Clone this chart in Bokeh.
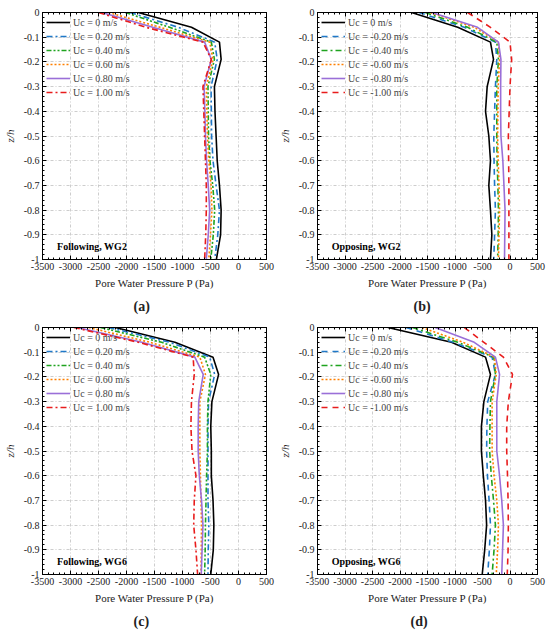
from bokeh.plotting import figure
from bokeh.models import (FixedTicker, LinearAxis, Label, Legend, LegendItem,
                          Title, Range1d, CustomLabelingPolicy)
from bokeh.layouts import gridplot
from bokeh.embed import file_html
from bokeh.resources import INLINE

# ---------------- data ----------------
z = [0, -0.06, -0.12, -0.19, -0.3, -0.4, -0.5, -0.6, -0.7, -0.8, -0.9, -1.0]

x_ticks = [-3500, -3000, -2500, -2000, -1500, -1000, -500, 0, 500]
y_ticks = [0, -0.1, -0.2, -0.3, -0.4, -0.5, -0.6, -0.7, -0.8, -0.9, -1]
y_tick_labels = ["0", "-0.1", "-0.2", "-0.3", "-0.4", "-0.5", "-0.6", "-0.7",
                 "-0.8", "-0.9", "-1"]

labels_following = ["Uc = 0 m/s", "Uc = 0.20 m/s", "Uc = 0.40 m/s",
                    "Uc = 0.60 m/s", "Uc = 0.80 m/s", "Uc = 1.00 m/s"]
labels_opposing = ["Uc = 0 m/s", "Uc = -0.20 m/s", "Uc = -0.40 m/s",
                   "Uc = -0.60 m/s", "Uc = -0.80 m/s", "Uc = -1.00 m/s"]

# (a) Following, WG2
a_u000 = [-1790, -840, -340, -310, -430, -420, -400, -380, -340, -310, -320, -395]
a_u020 = [-1935, -1075, -425, -380, -490, -485, -480, -455, -400, -340, -370, -425]
a_u040 = [-2020, -1230, -485, -430, -545, -540, -535, -510, -460, -425, -450, -495]
a_u060 = [-2320, -1400, -515, -455, -575, -565, -555, -530, -490, -475, -500, -530]
a_u080 = [-2440, -1530, -605, -485, -615, -600, -590, -570, -540, -515, -540, -575]
a_u100 = [-2500, -1650, -635, -485, -635, -620, -605, -590, -575, -575, -585, -605]

# (b) Opposing, WG2
b_u000 = [-1790, -950, -355, -300, -415, -445, -385, -355, -385, -355, -330, -355]
b_u020 = [-1655, -830, -265, -240, -265, -280, -295, -290, -280, -265, -280, -295]
b_u040 = [-1540, -770, -240, -210, -240, -240, -240, -235, -220, -210, -215, -225]
b_u060 = [-1450, -650, -210, -190, -215, -220, -225, -215, -200, -190, -200, -210]
b_u080 = [-1420, -590, -210, -165, -170, -170, -165, -130, -110, -90, -95, -100]
b_u100 = [-770, -355, 0, 30, 0, -15, -30, -25, -20, -20, -20, -20]

# (c) Following, WG6
c_u000 = [-2200, -1136, -455, -355, -475, -495, -485, -485, -455, -440, -450, -495]
c_u020 = [-2320, -1225, -515, -425, -535, -545, -545, -545, -545, -530, -540, -545]
c_u040 = [-2465, -1372, -605, -495, -545, -555, -555, -570, -580, -590, -595, -605]
c_u060 = [-2675, -1580, -690, -590, -690, -690, -690, -680, -670, -660, -665, -670]
c_u080 = [-2880, -1727, -780, -630, -710, -720, -720, -700, -660, -635, -650, -665]
c_u100 = [-2940, -1786, -810, -790, -840, -850, -830, -760, -790, -800, -760, -730]

# (d) Opposing, WG6
d_u000 = [-2220, -1065, -445, -355, -475, -520, -520, -485, -445, -425, -460, -505]
d_u020 = [-1890, -1030, -325, -265, -405, -420, -425, -410, -380, -355, -375, -405]
d_u040 = [-1775, -950, -295, -265, -355, -365, -370, -340, -300, -265, -290, -325]
d_u060 = [-1600, -850, -285, -250, -325, -325, -325, -290, -240, -210, -225, -250]
d_u080 = [-1360, -650, -265, -190, -240, -240, -240, -190, -150, -120, -135, -150]
d_u100 = [-830, -475, -120, 45, -30, -60, -60, -45, -35, -30, -35, -50]

# ---------------- styles ----------------
colors = ["black", "#1f78c8", "#1fa31f", "#ff8000", "#9a6fd8", "#e81c1c"]
dash_following = ["solid", "6 3 2 3", "5 2 2 2 2 2", "2 2", "solid", "6 3 2 3"]
dash_opposing = ["solid", "6 5", "6 3 2 3", "2 2", "solid", "6 5"]

SERIF = "Liberation Serif"


def make_panel(series, labels, dashes, note, caption, bl, br, bt, bb, w, h,
               cap_offset):
    p = figure(width=w, height=h, output_backend="svg", toolbar_location=None,
               x_range=Range1d(-3500, 500), y_range=Range1d(-1, 0),
               min_border_left=bl, min_border_right=br, min_border_top=bt,
               min_border_bottom=bb)
    p.background_fill_color = "white"
    p.border_fill_color = "white"
    p.outline_line_color = "black"
    p.outline_line_width = 1

    xt = FixedTicker(ticks=x_ticks,
                     minor_ticks=list(range(-3500, 501, 100)))
    yt = FixedTicker(ticks=y_ticks,
                     minor_ticks=[round(-i * 0.02, 2) for i in range(51)])

    for ax in p.xaxis:
        ax.ticker = xt
        ax.major_label_overrides = {t: str(t) for t in x_ticks}
        ax.axis_label = "Pore Water Pressure P (Pa)"
        ax.axis_label_text_font_style = "normal"
        ax.major_label_standoff = 3
        ax.axis_label_standoff = 4
    for ax in p.yaxis:
        ax.ticker = yt
        ax.major_label_overrides = dict(zip(y_ticks, y_tick_labels))
        ax.axis_label = "z/h"
        ax.axis_label_text_font_style = "italic"
        ax.major_label_standoff = 3
        ax.axis_label_standoff = 5

    main_axes = list(p.xaxis) + list(p.yaxis)

    no_labels = CustomLabelingPolicy(
        code="return new indices.constructor(indices.size)")
    top = LinearAxis(ticker=xt, major_label_policy=no_labels,
                     major_label_standoff=0, major_label_text_font_size="1px")
    right = LinearAxis(ticker=yt, major_label_policy=no_labels,
                       major_label_standoff=0, major_label_text_font_size="1px")
    p.add_layout(top, "above")
    p.add_layout(right, "right")

    for ax in main_axes + [top, right]:
        ax.major_tick_in = 4
        ax.major_tick_out = 0
        ax.minor_tick_in = 2
        ax.minor_tick_out = 0
        ax.axis_line_color = "black"
        ax.major_tick_line_color = "black"
        ax.minor_tick_line_color = "black"
        ax.major_label_text_font = SERIF
        ax.major_label_text_color = "#222222"
    for ax in main_axes:
        ax.major_label_text_font_size = "10px"
        ax.axis_label_text_font = SERIF
        ax.axis_label_text_color = "#222222"
        ax.axis_label_text_font_size = "11px"

    p.xgrid.ticker = xt
    p.ygrid.ticker = yt
    for g in (p.xgrid, p.ygrid):
        g.grid_line_color = "#c0c0c0"
        g.grid_line_dash = "3 2 1 2"
        g.grid_line_width = 0.8

    items = []
    for xs, lab, col, dash in zip(series, labels, colors, dashes):
        r = p.line(xs, z, line_color=col, line_width=1.6, line_dash=dash)
        items.append(LegendItem(label=lab, renderers=[r]))

    legend = Legend(items=items, location="top_left")
    legend.background_fill_alpha = 0
    legend.border_line_color = None
    legend.label_text_font = SERIF
    legend.label_text_font_size = "10px"
    legend.label_height = 12
    legend.glyph_height = 12
    legend.glyph_width = 24
    legend.spacing = 2
    legend.padding = 3
    legend.margin = 4
    legend.label_standoff = 3
    p.add_layout(legend)

    p.add_layout(Label(x=-3240, y=-0.948, text=note, text_font=SERIF,
                       text_font_size="10px", text_font_style="bold",
                       text_baseline="middle", text_color="black"))

    p.add_layout(Title(text=caption, align="left", offset=cap_offset,
                       text_font=SERIF, text_font_size="14px",
                       text_font_style="bold", text_color="#222222"),
                 "below")
    return p


pa = make_panel([a_u000, a_u020, a_u040, a_u060, a_u080, a_u100],
                labels_following, dash_following, "Following, WG2", "(a)",
                40, 9, 12, 56, 275, 318, 91)
pb = make_panel([b_u000, b_u020, b_u040, b_u060, b_u080, b_u100],
                labels_opposing, dash_opposing, "Opposing, WG2", "(b)",
                36, 11, 12, 56, 273, 318, 96)
pc = make_panel([c_u000, c_u020, c_u040, c_u060, c_u080, c_u100],
                labels_following, dash_following, "Following, WG6", "(c)",
                40, 9, 9, 56, 275, 315, 91)
pd = make_panel([d_u000, d_u020, d_u040, d_u060, d_u080, d_u100],
                labels_opposing, dash_opposing, "Opposing, WG6", "(d)",
                36, 11, 9, 56, 273, 315, 93)

layout = gridplot([[pa, pb], [pc, pd]], toolbar_location=None)

open("out.html", "w").write(file_html(layout, INLINE))
